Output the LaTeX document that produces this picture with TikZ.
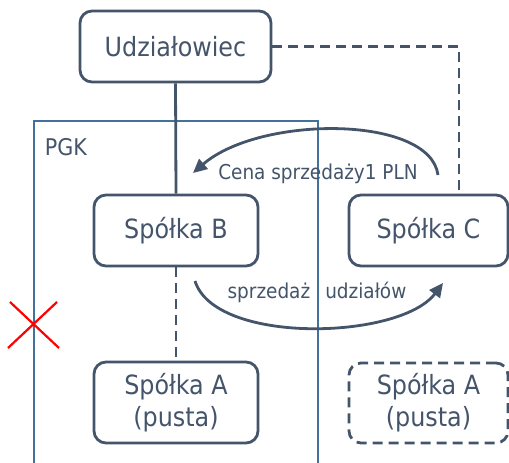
\documentclass[tikz,border=0pt]{standalone}
\usepackage{fontspec}
\setmainfont{DejaVu Sans Condensed}
\usetikzlibrary{arrows.meta}
\definecolor{slate}{HTML}{44546A}
\definecolor{pgkblue}{HTML}{41719C}
\begin{document}
\begin{tikzpicture}[x=1pt,y=-1pt,
  box/.style={draw=slate, line width=2.8pt, rounded corners=12pt, text=slate,
    font=\fontsize{26.5}{32}\selectfont, align=center, inner sep=0pt},
  link/.style={draw=slate, line width=2.8pt},
  dashlink/.style={link, dash pattern=on 10pt off 6pt},
  flow/.style={draw=slate, line width=2.8pt, -{Triangle[length=14pt,width=13pt]}},
  lbl/.style={text=slate, font=\fontsize{20.5}{24}\selectfont, inner sep=0pt},
]
\useasboundingbox (0,0) rectangle (509,463);

% tax group frame (open at the bottom)
\draw[pgkblue, line width=2.4pt] (34,463) -- (34,121) -- (318,121) -- (318,463);
\node[lbl, font=\fontsize{23}{26}\selectfont] (pgk) at (66,147) {PGK};

% companies
\node[box, minimum width=191pt, minimum height=71pt] (U) at (175.5,46.5) {Udziałowiec};
\node[box, minimum width=164pt, minimum height=71pt] (B) at (176,230.5) {Spółka B};
\node[box, minimum width=159pt, minimum height=71pt] (C) at (428.5,230.5) {Spółka C};
\node[box, minimum width=164pt, minimum height=81pt] (A) at (176,402.5) {Spółka A\\(pusta)};
\node[box, dash pattern=on 10pt off 6pt, minimum width=159pt, minimum height=80pt] (A2) at (428.5,403) {Spółka A\\(pusta)};

% ownership links
\draw[link] (U.south) -- (B.north);
\coordinate (corner) at (459,46.5);
\draw[dashlink] (U.east) -- (corner) -- (corner |- C.north);
\draw[dashlink] (B.south) -- (A.north);

% transaction arrows
\coordinate (pstart) at (438,175);
\coordinate (pend) at (193,173);
\draw[flow] (pstart) .. controls (430,115) and (260,115) .. (pend);
\node[lbl] (price) at (318,174) {Cena sprzedaży1 PLN};

\coordinate (sstart) at (195,281);
\coordinate (send) at (443,283);
\draw[flow] (sstart) .. controls (215,345) and (400,340) .. (send);
\node[lbl] (sale) at (317,292) {sprzedaż\hspace{0.45em} udziałów};

% crossing mark
\coordinate (x1) at (10,302);
\coordinate (x2) at (59,348);
\coordinate (x3) at (8,348);
\coordinate (x4) at (57,302);
\draw[red, line width=2.2pt] (x1) -- (x2);
\draw[red, line width=2.2pt] (x3) -- (x4);
\end{tikzpicture}
\end{document}
